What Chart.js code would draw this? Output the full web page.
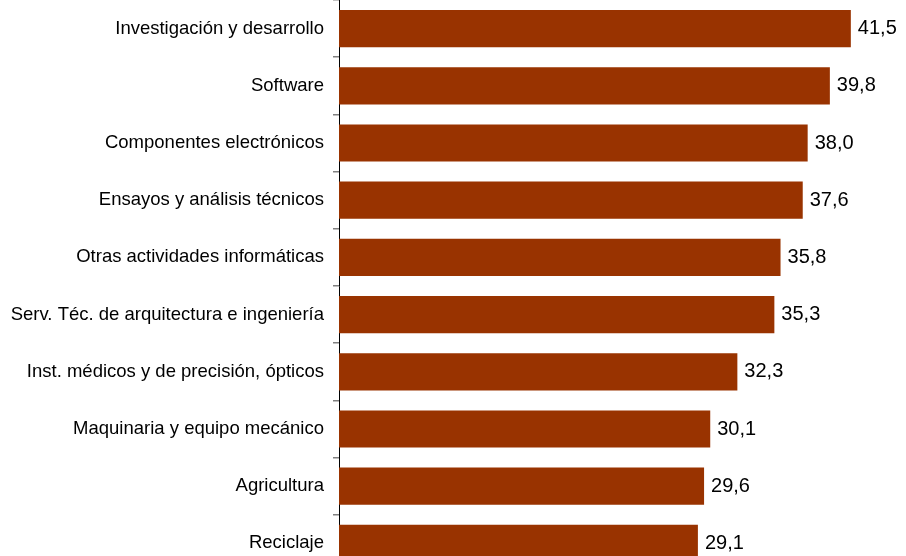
<!DOCTYPE html>
<html>
<head>
<meta charset="utf-8">
<script src="https://cdn.jsdelivr.net/npm/chart.js@4"></script>
<style>
  html, body { margin: 0; padding: 0; background: #fff; overflow: hidden; }
  #wrap { width: 906px; height: 572px; }
</style>
</head>
<body>
<div id="wrap"><canvas id="chart"></canvas></div>
<script>
var categories = [
    'Investigación y desarrollo',
    'Software',
    'Componentes electrónicos',
    'Ensayos y análisis técnicos',
    'Otras actividades informáticas',
    'Serv. Téc. de arquitectura e ingeniería',
    'Inst. médicos y de precisión, ópticos',
    'Maquinaria y equipo mecánico',
    'Agricultura',
    'Reciclaje'
];
var values = [41.5, 39.8, 38.0, 37.6, 35.8, 35.3, 32.3, 30.1, 29.6, 29.1];
var xMin = 0;
var xMax = 45;

// writes the value at the end of every bar
var valueLabels = {
    id: 'valueLabels',
    afterDatasetsDraw: function(chart) {
        var ctx = chart.ctx;
        ctx.save();
        ctx.font = '20px "Liberation Sans", Arial, sans-serif';
        ctx.fillStyle = '#000';
        ctx.textAlign = 'left';
        ctx.textBaseline = 'middle';
        chart.getDatasetMeta(0).data.forEach(function(bar, i) {
            var txt = values[i].toFixed(1).replace('.', ',');
            ctx.fillText(txt, bar.x + 7, bar.y);
        });
        ctx.restore();
    }
};

var c = document.getElementById('chart');
var ctx = c.getContext('2d');
var myChart = new Chart(ctx, {
    type: 'bar',
    data: {
        labels: categories,
        datasets: [{
            data: values,
            backgroundColor: '#993300',
            borderWidth: 0,
            barPercentage: 0.65,
            categoryPercentage: 1
        }]
    },
    options: {
        indexAxis: 'y',
        responsive: true,
        maintainAspectRatio: false,
        animation: false,
        layout: { padding: { left: 0, right: 12, top: 0, bottom: 0 } },
        plugins: {
            legend: { display: false },
            tooltip: { enabled: false }
        },
        scales: {
            x: {
                display: false,
                min: xMin,
                max: xMax
            },
            y: {
                afterFit: function(scale) {
                    scale.width = 339;
                    scale.paddingTop = 0;
                    scale.paddingBottom = 0;
                },
                grid: {
                    offset: true,
                    drawOnChartArea: false,
                    tickLength: 6,
                    tickColor: '#808080',
                    lineWidth: 1.5
                },
                border: { color: '#000', width: 1 },
                ticks: {
                    color: '#000',
                    padding: 9,
                    font: { family: '"Liberation Sans", Arial, sans-serif', size: 18.5 }
                }
            }
        }
    },
    plugins: [valueLabels]
});
</script>
</body>
</html>
